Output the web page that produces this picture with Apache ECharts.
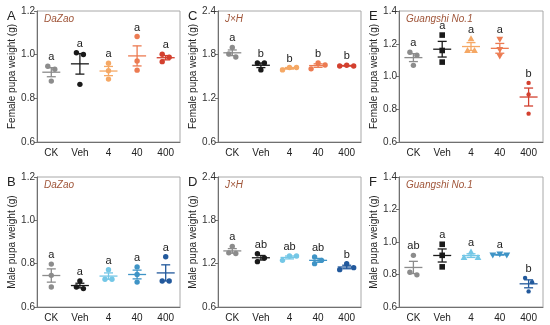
<!DOCTYPE html>
<html><head><meta charset="utf-8">
<script src="https://cdn.jsdelivr.net/npm/echarts@6/dist/echarts.min.js"></script>
<style>html,body{margin:0;padding:0;background:#fff}#c{width:550px;height:325px}</style>
</head><body><div id="c"></div>
<script>
const categories = ['CK', 'Veh', '4', '40', '400'];
const strains = ['DaZao', 'J\u00d7H', 'Guangshi No.1'];
const panelLetters = ['A', 'C', 'E', 'B', 'D', 'F'];
const yTitles = ['Female pupa weight (g)', 'Male pupa weight (g)'];

// per-replicate values (g), one inner list per category
const femaleDaZao = [[0.947, 0.933, 0.879], [1.009, 1.001, 0.864], [0.961, 0.926, 0.888], [1.083, 0.971, 0.929], [1.002, 0.988, 0.968]];
const femaleDaZaoSig = ['a', 'a', 'a', 'a', 'a'];
const femaleJH = [[1.90, 1.768, 1.809], [1.686, 1.686, 1.591], [1.591, 1.623, 1.623], [1.686, 1.605, 1.659], [1.645, 1.655, 1.645]];
const femaleJHSig = ['a', 'b', 'b', 'b', 'b'];
const femaleGS = [[1.148, 1.13, 1.068], [1.253, 1.159, 1.088], [1.231, 1.159, 1.159], [1.227, 1.165, 1.124], [0.961, 0.890, 0.773]];
const femaleGSSig = ['a', 'a', 'a', 'a', 'b'];
const maleDaZao = [[0.798, 0.746, 0.692], [0.72, 0.685, 0.692], [0.772, 0.728, 0.728], [0.785, 0.75, 0.715], [0.832, 0.72, 0.72]];
const maleDaZaoSig = ['a', 'a', 'a', 'a', 'a'];
const maleJH = [[1.44, 1.34, 1.35], [1.338, 1.228, 1.279], [1.306, 1.306, 1.246], [1.292, 1.246, 1.2], [1.2, 1.117, 1.145]];
const maleJHSig = ['a', 'ab', 'ab', 'ab', 'b'];
const maleGS = [[0.918, 0.798, 0.814], [0.986, 0.918, 0.847], [0.939, 0.905, 0.905], [0.925, 0.92, 0.92], [0.779, 0.753, 0.696]];
const maleGSSig = ['ab', 'a', 'a', 'a', 'b'];

const yMins = [0.6, 0.6, 0.6, 0.6, 0.6, 0.6];
const yMaxs = [1.2, 2.4, 1.4, 1.2, 2.4, 1.4];
const yIntervals = [0.2, 0.6, 0.2, 0.2, 0.6, 0.2];

const FONT = 'Liberation Sans, Arial, sans-serif';
const femaleColors = ['#8c8c8c', '#1a1a1a', '#f5a865', '#ec7b52', '#d3402f'];
const maleColors = ['#8c8c8c', '#1a1a1a', '#74c7e6', '#3f94c6', '#22599c'];
const circles = ['circle', 'circle', 'circle', 'circle', 'circle'];
const mixed = ['circle', 'square', 'triUp', 'triDown', 'dot'];

const panels = [
  {vals: femaleDaZao, sig: femaleDaZaoSig, colors: femaleColors, shapes: circles},
  {vals: femaleJH, sig: femaleJHSig, colors: femaleColors, shapes: circles},
  {vals: femaleGS, sig: femaleGSSig, colors: femaleColors, shapes: mixed},
  {vals: maleDaZao, sig: maleDaZaoSig, colors: maleColors, shapes: circles},
  {vals: maleJH, sig: maleJHSig, colors: maleColors, shapes: circles},
  {vals: maleGS, sig: maleGSSig, colors: maleColors, shapes: mixed}
];

const lefts = [37, 218, 399, 37, 218, 399];
const widths = [143, 143, 144, 143, 143, 144];
const tops = [11, 11, 11, 177, 177, 177];
const heights = [131, 131, 131, 130, 130, 130];

function mean(a) { return a.reduce((s, v) => s + v, 0) / a.length; }
function sem(a) {
  const m = mean(a);
  const v = a.reduce((s, x) => s + (x - m) * (x - m), 0) / (a.length - 1);
  return Math.sqrt(v) / Math.sqrt(a.length);
}

function marker(shape, x, y, color) {
  const st = {fill: color};
  if (shape === 'square') return {type: 'rect', shape: {x: x - 2.8, y: y - 2.8, width: 5.6, height: 5.6}, style: st};
  if (shape === 'triUp') return {type: 'polygon', shape: {points: [[x, y - 3.4], [x - 3.4, y + 2.6], [x + 3.4, y + 2.6]]}, style: st};
  if (shape === 'triDown') return {type: 'polygon', shape: {points: [[x, y + 3.4], [x - 3.4, y - 2.6], [x + 3.4, y - 2.6]]}, style: st};
  if (shape === 'dot') return {type: 'circle', shape: {cx: x, cy: y, r: 2.2}, style: st};
  return {type: 'circle', shape: {cx: x, cy: y, r: 2.7}, style: st};
}

function swarm(ys) {
  const s = 7, minD = 6;
  const idx = ys.map((y, i) => i).sort((a, b) => ys[a] - ys[b]);
  const off = new Array(ys.length).fill(0);
  const placed = [];
  idx.forEach(i => {
    for (const k of [0, 1, -1, 2, -2, 3, -3]) {
      const o = k * s;
      if (placed.every(j => Math.hypot(o - off[j], ys[i] - ys[j]) >= minD)) { off[i] = o; break; }
    }
    placed.push(i);
  });
  let cl = [idx[0]];
  const clusters = [];
  for (let n = 1; n < idx.length; n++) {
    if (ys[idx[n]] - ys[idx[n - 1]] < minD) cl.push(idx[n]); else { clusters.push(cl); cl = [idx[n]]; }
  }
  clusters.push(cl);
  clusters.forEach(c => {
    const os = c.map(i => off[i]);
    const sh = (Math.max(...os) + Math.min(...os)) / 2;
    c.forEach(i => { off[i] -= sh; });
  });
  return off;
}

const grids = [], xAxes = [], yAxes = [], series = [], graphics = [];
panels.forEach((p, k) => {
  grids.push({left: lefts[k], top: tops[k], width: widths[k], height: heights[k], show: true, borderColor: '#a8a8a8', borderWidth: 1, backgroundColor: 'transparent'});
  xAxes.push({
    type: 'category', gridIndex: k, data: categories, boundaryGap: true,
    axisLine: {lineStyle: {color: '#707070', width: 1}},
    axisTick: {alignWithLabel: true, length: 3, lineStyle: {color: '#707070'}},
    axisLabel: {fontSize: 10, color: '#222', margin: 6, fontFamily: FONT}
  });
  yAxes.push({
    type: 'value', gridIndex: k, min: yMins[k], max: yMaxs[k], interval: yIntervals[k],
    name: yTitles[k < 3 ? 0 : 1], nameLocation: 'middle', nameGap: 19,
    nameTextStyle: {fontSize: 10, color: '#222', fontFamily: FONT},
    splitLine: {show: false},
    axisLine: {show: true, lineStyle: {color: '#707070', width: 1}},
    axisTick: {show: true, length: 3, lineStyle: {color: '#707070'}},
    axisLabel: {fontSize: 10, color: '#333', margin: 2, fontFamily: FONT, formatter: v => v.toFixed(1)}
  });
  series.push({
    type: 'custom', xAxisIndex: k, yAxisIndex: k, silent: true, animation: false, clip: false, z: 10,
    data: p.vals.map((v, i) => [i, mean(v)]),
    renderItem: (params, api) => {
      const i = params.dataIndex;
      const pts = p.vals[i];
      const m = mean(pts), se = sem(pts);
      const color = p.colors[i];
      const c = api.coord([i, m]);
      const cx = c[0], cy = c[1];
      const yT = api.coord([i, m + se])[1];
      const yB = api.coord([i, m - se])[1];
      const pys = pts.map(v => api.coord([i, v])[1]);
      const offs = swarm(pys);
      const children = [];
      pys.forEach((y, j) => children.push(marker(p.shapes[i], cx + offs[j], y, color)));
      const ls = {stroke: color, lineWidth: 1.3};
      children.push({type: 'line', shape: {x1: cx - 9, y1: cy, x2: cx + 9, y2: cy}, style: ls});
      children.push({type: 'line', shape: {x1: cx, y1: yT, x2: cx, y2: yB}, style: ls});
      children.push({type: 'line', shape: {x1: cx - 4.5, y1: yT, x2: cx + 4.5, y2: yT}, style: ls});
      children.push({type: 'line', shape: {x1: cx - 4.5, y1: yB, x2: cx + 4.5, y2: yB}, style: ls});
      const top = Math.min(yT, ...pys) - 3;
      children.push({type: 'text', style: {text: p.sig[i], x: cx, y: top - 6, textAlign: 'center', textVerticalAlign: 'middle', fontSize: 11, fill: '#222', fontFamily: FONT}});
      return {type: 'group', children: children};
    }
  });
  graphics.push({type: 'text', left: lefts[k] - 30, top: tops[k] - 1, style: {text: panelLetters[k], fontSize: 13, fill: '#222', fontFamily: FONT}});
  graphics.push({type: 'text', left: lefts[k] + 7, top: tops[k] + 3, style: {text: strains[k % 3], fontSize: 10, fontStyle: 'italic', fill: '#a0563a', fontFamily: FONT}});
});

const chart = echarts.init(document.getElementById('c'), null, {renderer: 'canvas'});
chart.setOption({
  animation: false,
  backgroundColor: '#fff',
  grid: grids, xAxis: xAxes, yAxis: yAxes, series: series, graphic: graphics
});
</script></body></html>
